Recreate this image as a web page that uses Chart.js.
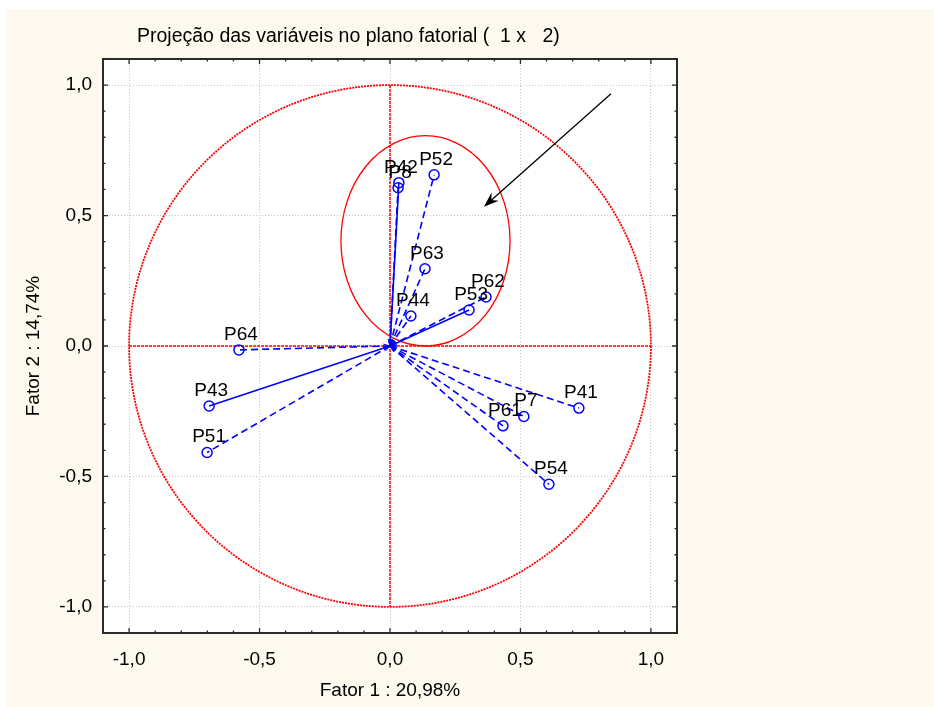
<!DOCTYPE html>
<html>
<head>
<meta charset="utf-8">
<title>Projeção das variáveis no plano fatorial</title>
<script src="https://cdn.jsdelivr.net/npm/chart.js@4.4.1/dist/chart.umd.min.js"></script>
<style>
    html, body { margin: 0; padding: 0; background: #fff; }
    #wrap { width: 934px; height: 707px; }
</style>
</head>
<body>
<div id="wrap"><canvas id="chart" width="934" height="707"></canvas></div>
<script>
/* ── Projeção das variáveis no plano fatorial (1 x 2) ── */

// ── Data ──
const VARIAVEIS = ['P42', 'P8', 'P52', 'P63', 'P44', 'P53', 'P62', 'P64', 'P43', 'P51', 'P41', 'P7', 'P61', 'P54'];
const FATOR1 = [0.034, 0.031, 0.169, 0.134, 0.080, 0.303, 0.368, -0.579, -0.693, -0.701, 0.724, 0.513, 0.433, 0.609];
const FATOR2 = [0.626, 0.607, 0.656, 0.296, 0.115, 0.138, 0.188, -0.015, -0.230, -0.408, -0.238, -0.270, -0.306, -0.530];
const SOLIDA = [true, false, false, false, false, true, false, false, true, false, false, false, false, false];
const TICKS = [-1, -0.5, 0, 0.5, 1];
const ELIPSE = [0.136, 0.403, 0.324, 0.403];   // centro x, centro y, raio x, raio y
const SETA = [0.847, 0.967, 0.360, 0.534];     // de (x, y) até (x, y)

const TITULO = 'Projeção das variáveis no plano fatorial (  1 x   2)';
const AZUL = '#0000ff';
const VERMELHO = '#ff0000';
const CREME = '#fdf9ee';
const FAMILY = "'Liberation Sans', Arial, sans-serif";
const FONT = { family: FAMILY, size: 19 };

// ── Helpers ──
function fmt(v) {
    return Number(v).toFixed(1).replace('.', ',');
}

function px(chart, x, y) {
    return [chart.scales.x.getPixelForValue(x), chart.scales.y.getPixelForValue(y)];
}

// ── Decorations (background, circle, ellipse, frame, labels, arrow) ──
const decor = {
    id: 'decor',
    beforeDraw(chart) {
        const { ctx, chartArea: a } = chart;
        ctx.save();
        ctx.fillStyle = '#fff';
        ctx.fillRect(0, 0, chart.width, chart.height);
        ctx.fillStyle = CREME;
        ctx.fillRect(7, 9, chart.width - 7, chart.height - 9);
        ctx.fillStyle = '#fff';
        ctx.fillRect(a.left, a.top, a.right - a.left, a.bottom - a.top);
        ctx.restore();
    },
    beforeDatasetsDraw(chart) {
        const { ctx } = chart;
        const [ox, oy] = px(chart, 0, 0);
        const [x1] = px(chart, 1, 0);
        const [, y1] = px(chart, 0, 1);
        ctx.save();
        // unit circle, dotted
        ctx.strokeStyle = VERMELHO;
        ctx.lineWidth = 1.8;
        ctx.setLineDash([2, 1]);
        ctx.beginPath();
        ctx.ellipse(ox, oy, x1 - ox, oy - y1, 0, 0, Math.PI * 2);
        ctx.stroke();
        // cross
        ctx.lineWidth = 1.5;
        ctx.setLineDash([3, 1]);
        ctx.beginPath();
        ctx.moveTo(ox - (x1 - ox), oy); ctx.lineTo(x1, oy);
        ctx.moveTo(ox, y1); ctx.lineTo(ox, oy + (oy - y1));
        ctx.stroke();
        // ellipse
        const [ex, ey] = px(chart, ELIPSE[0], ELIPSE[1]);
        const [erx] = px(chart, ELIPSE[0] + ELIPSE[2], ELIPSE[1]);
        const [, ery] = px(chart, ELIPSE[0], ELIPSE[1] + ELIPSE[3]);
        ctx.setLineDash([]);
        ctx.lineWidth = 1.3;
        ctx.beginPath();
        ctx.ellipse(ex, ey, erx - ex, ey - ery, 0, 0, Math.PI * 2);
        ctx.stroke();
        ctx.restore();
    },
    afterDraw(chart) {
        const { ctx, chartArea: a } = chart;
        const [ox, oy] = px(chart, 0, 0);
        ctx.save();

        // small arrowheads at origin
        ctx.strokeStyle = AZUL;
        ctx.lineWidth = 1;
        VARIAVEIS.forEach((_, i) => {
            const [p, q] = px(chart, FATOR1[i], FATOR2[i]);
            const ang = Math.atan2(oy - q, ox - p);
            ctx.beginPath();
            [-0.3, 0.3].forEach(d => {
                ctx.moveTo(ox, oy);
                ctx.lineTo(ox - 7 * Math.cos(ang + d), oy - 7 * Math.sin(ang + d));
            });
            ctx.stroke();
        });

        // point labels
        ctx.fillStyle = '#000';
        ctx.font = `${FONT.size}px ${FAMILY}`;
        ctx.textAlign = 'center';
        ctx.textBaseline = 'alphabetic';
        VARIAVEIS.forEach((nome, i) => {
            const [p, q] = px(chart, FATOR1[i], FATOR2[i]);
            ctx.fillText(nome, p + 2, q - 10);
        });

        // black arrow
        const [sx, sy] = px(chart, SETA[0], SETA[1]);
        const [tx, ty] = px(chart, SETA[2], SETA[3]);
        const ang = Math.atan2(ty - sy, tx - sx);
        ctx.strokeStyle = '#000';
        ctx.fillStyle = '#000';
        ctx.lineWidth = 1.3;
        ctx.beginPath();
        ctx.moveTo(sx, sy);
        ctx.lineTo(tx - 6 * Math.cos(ang), ty - 6 * Math.sin(ang));
        ctx.stroke();
        ctx.beginPath();
        ctx.moveTo(tx, ty);
        ctx.lineTo(tx - 16 * Math.cos(ang - 0.35), ty - 16 * Math.sin(ang - 0.35));
        ctx.lineTo(tx - 10 * Math.cos(ang), ty - 10 * Math.sin(ang));
        ctx.lineTo(tx - 16 * Math.cos(ang + 0.35), ty - 16 * Math.sin(ang + 0.35));
        ctx.closePath();
        ctx.fill();

        // frame + inward ticks
        ctx.strokeStyle = '#2a2a2a';
        ctx.lineWidth = 2;
        ctx.strokeRect(a.left, a.top, a.right - a.left, a.bottom - a.top);
        ctx.lineWidth = 1.3;
        ctx.beginPath();
        for (let i = -11; i <= 11; i++) {
            const v = i / 10;
            const len = i % 5 === 0 ? 5 : 2.5;
            const xp = chart.scales.x.getPixelForValue(v);
            const yp = chart.scales.y.getPixelForValue(v);
            ctx.moveTo(xp, a.top); ctx.lineTo(xp, a.top + len);
            ctx.moveTo(xp, a.bottom); ctx.lineTo(xp, a.bottom - len);
            ctx.moveTo(a.left, yp); ctx.lineTo(a.left + len, yp);
            ctx.moveTo(a.right, yp); ctx.lineTo(a.right - len, yp);
        }
        ctx.stroke();

        // title
        ctx.fillStyle = '#000';
        ctx.font = `19.5px ${FAMILY}`;
        ctx.textAlign = 'left';
        ctx.textBaseline = 'middle';
        ctx.fillText(TITULO, 137, 37);
        ctx.restore();
    },
};

// ── Datasets ──
const datasets = VARIAVEIS.map((nome, i) => ({
    label: nome,
    data: [{ x: 0, y: 0 }, { x: FATOR1[i], y: FATOR2[i] }],
    showLine: true,
    borderColor: AZUL,
    borderWidth: 1.6,
    borderDash: SOLIDA[i] ? [] : [7, 4],
    pointRadius: [0, 5],
    pointHoverRadius: [0, 5],
    pointBorderColor: AZUL,
    pointBackgroundColor: 'rgba(0,0,0,0)',
    pointBorderWidth: 1.5,
}));

function axis(size, titleText, titlePad, tickPad) {
    return {
        type: 'linear',
        min: -1.1,
        max: 1.1,
        afterBuildTicks: s => { s.ticks = TICKS.map(v => ({ value: v })); },
        afterFit: s => { if (s.isHorizontal()) s.height = size; else s.width = size; },
        ticks: { callback: v => fmt(v), color: '#000', font: FONT, padding: tickPad, maxRotation: 0 },
        grid: { color: '#c4c4c4', lineWidth: 1, drawTicks: false },
        border: { display: false, dash: [1, 2] },
        title: { display: true, text: titleText, color: '#000', font: FONT, padding: titlePad },
    };
}

// ── Chart ──
new Chart(document.getElementById('chart').getContext('2d'), {
    type: 'scatter',
    data: { datasets },
    options: {
        responsive: false,
        animation: false,
        events: [],
        layout: { padding: { top: 59, right: 257, left: 0, bottom: 0 } },
        plugins: { legend: { display: false }, tooltip: { enabled: false } },
        scales: {
            x: axis(74, 'Fator 1 : 20,98%', { top: 0, bottom: 5 }, 15),
            y: axis(103, 'Fator 2 : 14,74%', { top: 22, bottom: 0 }, 11),
        },
    },
    plugins: [decor],
});
</script>
</body>
</html>
